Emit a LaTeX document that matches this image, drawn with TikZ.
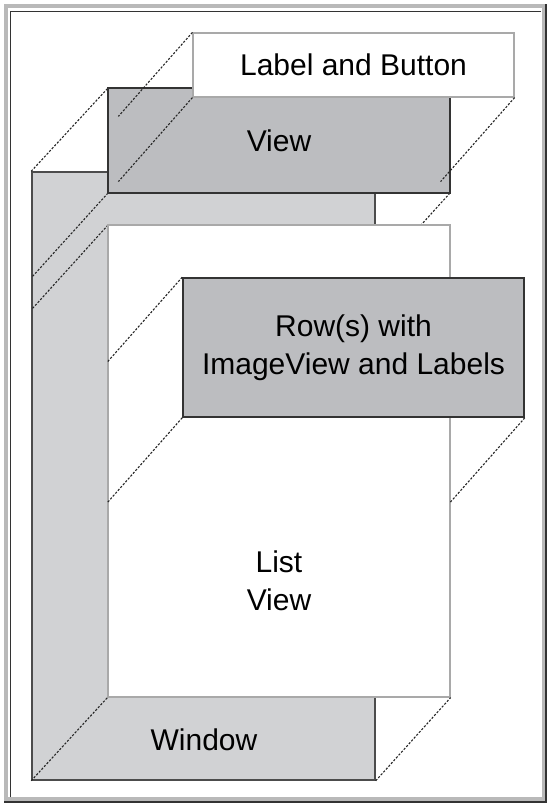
\documentclass[tikz,border=0pt]{standalone}
\usepackage{fontspec}
\setmainfont{Liberation Sans}
\usepackage{xcolor}
\usepackage{tikz}
\usetikzlibrary{positioning}
\definecolor{winfill}{HTML}{D1D2D4}
\definecolor{viewfill}{HTML}{BCBDC0}
\definecolor{edgegray}{HTML}{A9A9A9}

\begin{document}
\begin{tikzpicture}[
    x=1pt, y=-1pt,
    panel/.style={
        rectangle, inner sep=0pt,
        draw=edgegray, fill=white, line width=1.2pt,
        align=center, font=\fontsize{30}{38}\selectfont
    },
    shaded/.style={panel, draw=black!80, fill=viewfill, line width=1.6pt},
    caption/.style={inner sep=0pt, align=center, font=\fontsize{30}{38}\selectfont},
    guide/.style={dash pattern=on 2.2pt off 1.6pt, line width=1.1pt, color=black!85}
]
\useasboundingbox (0,0) rectangle (548,804);

% frame
\draw[gray!55, line width=4pt] (6,6) rectangle (544,799);
\draw[black!80, line width=1pt] (10,797) -- (10,11) -- (541,11);
\draw[black!80, line width=1.2pt] (4,802) -- (546,802) -- (546,4);

% back layer
\node[panel, draw=black!70, fill=winfill, line width=1.5pt,
      minimum width=343pt, minimum height=608pt] (win) at (203.5,476) {};
\node[caption] (wintext) at (204,740) {Window};

% middle layer: positions first, drawn after the depth lines
\coordinate (vtl) at (108,88);
\coordinate (vbl) at (108,193);
\coordinate (vbr) at (450,193);
\coordinate (ltl) at (108,225);

\draw[guide] (win.north west) -- (vtl);
\draw[guide] (vbl) -- ++(-76,84);
\draw[guide] (ltl) -- ++(-76,84);
\draw[guide] (vbr) -- ++(-76,84);

\node[panel, minimum width=342pt, minimum height=472pt] (list) at (279,461) {};
\node[caption] (listtext) at (279,581) {List\\View};
\draw[guide] (win.south west) -- (list.south west);
\draw[guide] (win.south east) -- (list.south east);

\node[shaded, minimum width=342pt, minimum height=105pt] (view) at (279,140.5) {View};

% front layer
\node[panel, minimum width=321pt, minimum height=64pt] (label) at (353.5,65) {Label and Button};
\draw[guide] (label.north west) -- ++(-74,84);
\draw[guide] (label.south west) -- ++(-74,84);
\draw[guide] (label.south east) -- ++(-74,84);

\node[shaded, minimum width=341pt, minimum height=139pt] (row) at (353.5,347.5)
    {Row(s) with\\ImageView and Labels};
\draw[guide] (row.north west) -- ++(-75,85);
\draw[guide] (row.south west) -- ++(-75,85);
\draw[guide] (row.south east) -- ++(-75,85);
\end{tikzpicture}
\end{document}
